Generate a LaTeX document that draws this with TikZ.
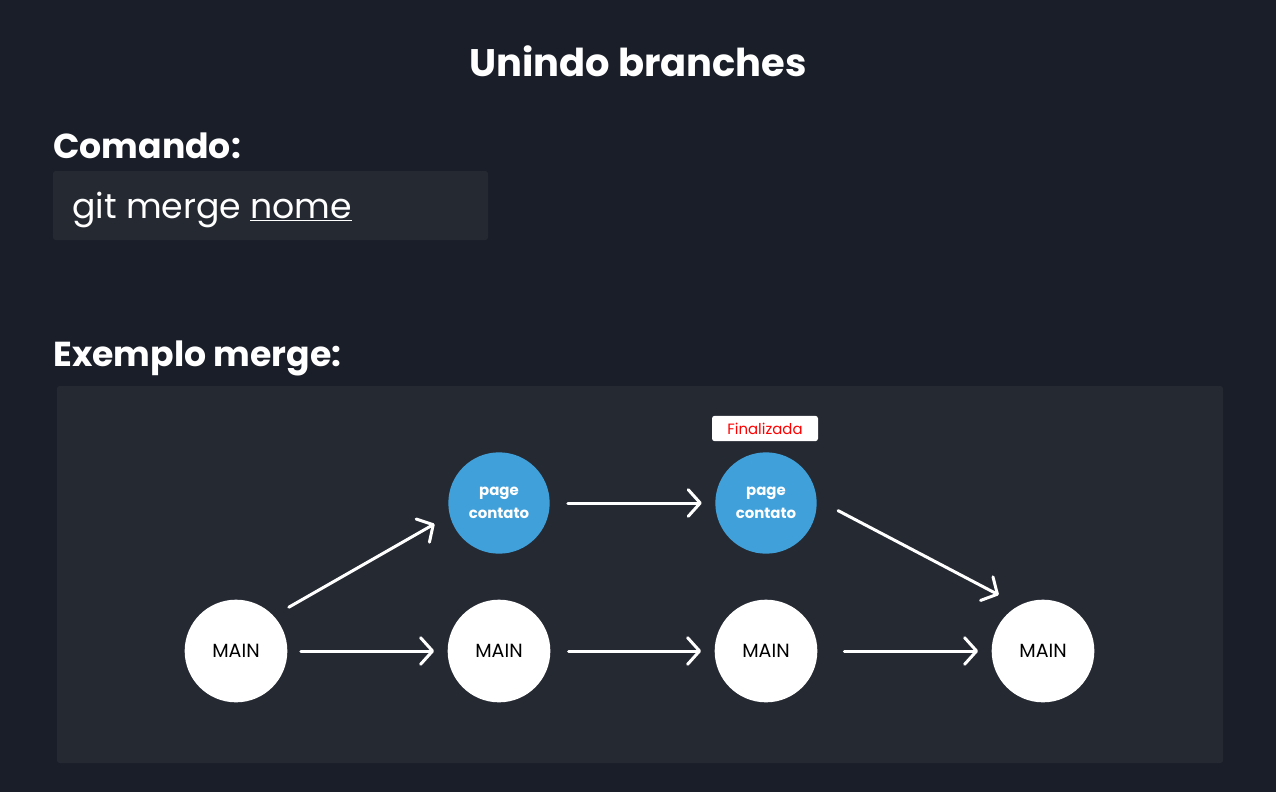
\documentclass[tikz,border=0pt]{standalone}
\usepackage{fontspec}
\setmainfont{Poppins}
\usetikzlibrary{arrows.meta}
\definecolor{bgdark}{HTML}{1A1E28}
\definecolor{panel}{HTML}{252932}
\definecolor{commit}{HTML}{40A0DA}
\definecolor{tagred}{HTML}{FF0000}
\begin{document}
\begin{tikzpicture}[x=0.75pt,y=-0.75pt,
    mainnode/.style={circle,fill=white,minimum size=77pt,inner sep=0pt,font=\fontsize{14.3}{16}\selectfont,text=black},
    branchnode/.style={circle,fill=commit,minimum size=76pt,inner sep=0pt,align=center,font=\bfseries\fontsize{11.2}{17}\selectfont,text=white},
    arr/.style={white,line width=2.25pt,line cap=round,-{Straight Barb[length=9pt,width=20pt,line cap=round,line join=round]},shorten <=10pt,shorten >=10pt}]
        % Background
        \fill[bgdark] (0,0) rectangle (1276,792);
        \useasboundingbox (0,0) rectangle (1276,792);
        \fill[panel,rounded corners=2pt] (53,171) rectangle (488,240);
        \fill[panel,rounded corners=2pt] (57,386) rectangle (1223,763);

        % Texts
        \node (title) [anchor=base,text=white,font=\bfseries\fontsize{28.8}{32}\selectfont] at (638,76) {Unindo branches};
        \node (cmd) [anchor=base west,inner sep=0pt,text=white,font=\bfseries\fontsize{26}{30}\selectfont] at (53,158) {Comando:};
        \node (code) [anchor=base west,inner sep=0pt,text=white,font=\fontsize{26}{30}\selectfont] at (72,218) {git merge \underline{nome}};
        \node (ex) [anchor=base west,inner sep=0pt,text=white,font=\bfseries\fontsize{26}{30}\selectfont] at (53,366) {Exemplo merge:};

        % Commits
        \node[mainnode] (main1) at (236,651) {MAIN};
        \node[mainnode] (main2) at (499,651) {MAIN};
        \node[mainnode] (main3) at (766,651) {MAIN};
        \node[mainnode] (main4) at (1043,651) {MAIN};
        \node[branchnode] (page1) at (499,503) {page\\contato};
        \node[branchnode] (page2) at (766,503) {page\\contato};
        \node (done) [fill=white,rounded corners=2pt,minimum width=79.5pt,minimum height=19pt,inner sep=0pt,text=tagred,font=\fontsize{11.2}{13}\selectfont] at (765,428.5) {Finalizada};

        % Arrows
        \draw[arr] (main1) -- (main2);
        \draw[arr,shorten <=13.5pt] (main2) -- (main3);
        \draw[arr,shorten <=20pt] (main3) -- (main4);
        \draw[arr,shorten <=13.5pt] (page1) -- (page2);
        \draw[arr,shorten <=13pt,shorten >=13pt] (main1.43) -- (page1.194);
        \draw[arr,shorten <=18pt,shorten >=17pt] (page2.4) -- (main4.118);
    \end{tikzpicture}
\end{document}
